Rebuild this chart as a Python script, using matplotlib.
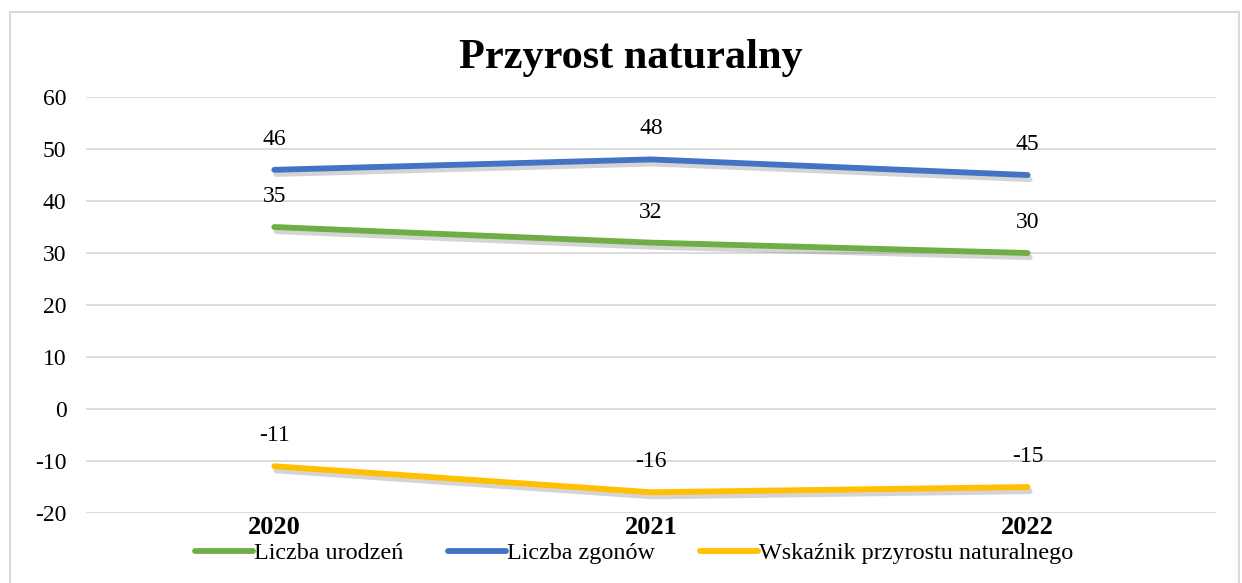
import matplotlib
matplotlib.use("Agg")
import matplotlib.pyplot as plt
import matplotlib.patheffects as pe
from matplotlib.patches import Rectangle
from matplotlib.lines import Line2D

plt.rcParams['font.family'] = ['Liberation Serif', 'DejaVu Serif']
plt.rcParams['axes.unicode_minus'] = False

# data
years = ['2020', '2021', '2022']
urodzenia = [35, 32, 30]
zgony = [46, 48, 45]
przyrost = [-11, -16, -15]

series = [
    ('Liczba urodzeń', urodzenia, '#70AD47'),
    ('Liczba zgonów', zgony, '#4472C4'),
    ('Wskaźnik przyrostu naturalnego', przyrost, '#FFC000'),
]

fig = plt.figure(figsize=(12.42, 5.83), dpi=100)
ax = fig.add_axes([0.0692, 0.12, 0.9098, 0.7136])

# outer frame of the chart
fig.patches.append(Rectangle((10 / 1242, -0.05), 1229 / 1242, 1 - 12 / 583 + 0.05,
                             transform=fig.transFigure, fill=False,
                             edgecolor='#D9D9D9', linewidth=1.5))

x = list(range(len(years)))
shadow = [pe.SimpleLineShadow(offset=(1.5, -3), shadow_color='#555555', alpha=0.25),
          pe.Normal()]
handles = []
for name, vals, col in series:
    ax.plot(x, vals, color=col, linewidth=4.2, solid_capstyle='round',
            path_effects=shadow)
    handles.append(Line2D([], [], color=col, linewidth=4.2,
                          solid_capstyle='round', label=name))
    for xi, v in zip(x, vals):
        ax.annotate(str(v), (xi, v), xytext=(0, 22), textcoords='offset points',
                    ha='center', va='center', fontsize=17)

ax.set_xlim(-0.5, 2.5)
ax.set_ylim(-20, 60)
ax.set_yticks(range(-20, 61, 10))
ax.set_xticks(x)
ax.set_xticklabels(years, fontweight='bold', fontsize=19)
ax.tick_params(axis='y', length=0, pad=14, labelsize=17)
ax.tick_params(axis='x', length=0, pad=2)
ax.grid(axis='y', color='#D9D9D9', linewidth=1.3)
ax.set_axisbelow(True)
for s in ax.spines.values():
    s.set_visible(False)

fig.text(631 / 1242, 1 - 58 / 583, 'Przyrost naturalny', ha='center', va='center',
         fontsize=30.5, fontweight='bold')

fig.legend(handles=handles, loc='center', bbox_to_anchor=(634 / 1242, 1 - 553 / 583),
           ncol=3, frameon=False, fontsize=17.4, handlelength=2.4,
           handletextpad=0.05, columnspacing=1.85)

fig.savefig('out.png', dpi=100)
